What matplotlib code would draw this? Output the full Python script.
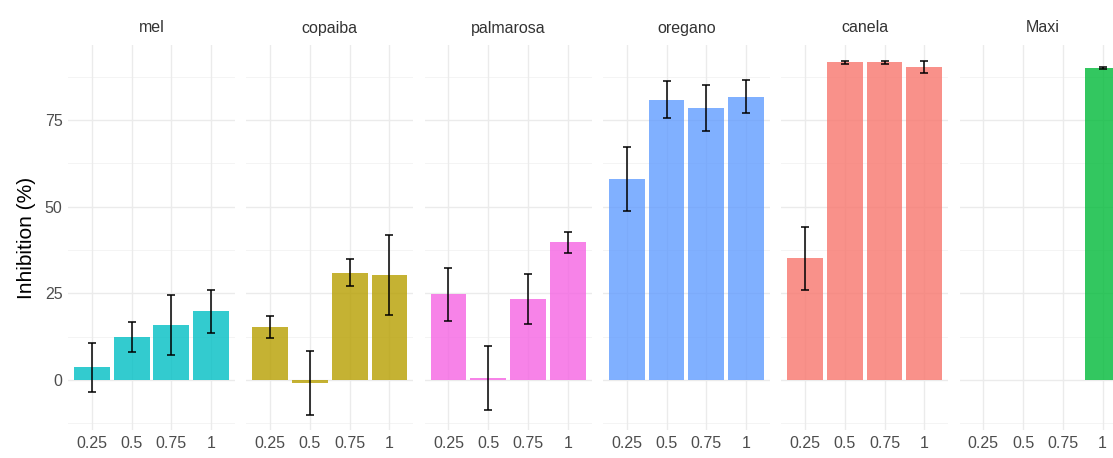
import numpy as np
import matplotlib
matplotlib.use("Agg")
import matplotlib.pyplot as plt
from matplotlib.colors import to_rgba

plt.rcParams['font.family'] = ['Liberation Sans', 'DejaVu Sans']

# Data: mean inhibition (%) and error by extract and concentration
concentrations = ["0.25", "0.5", "0.75", "1"]
extracts = ["mel", "copaiba", "palmarosa", "oregano", "canela", "Maxi"]

mel_mean = [3.7, 12.4, 15.9, 19.8]
mel_err = [7.1, 4.3, 8.7, 6.3]
copaiba_mean = [15.4, -0.8, 31.0, 30.2]
copaiba_err = [3.2, 9.2, 4.0, 11.5]
palmarosa_mean = [24.7, 0.6, 23.5, 39.7]
palmarosa_err = [7.7, 9.1, 7.2, 3.0]
oregano_mean = [58.0, 80.8, 78.5, 81.7]
oregano_err = [9.3, 5.3, 6.6, 4.8]
canela_mean = [35.1, 91.6, 91.6, 90.2]
canela_err = [9.1, 0.4, 0.4, 1.8]
maxi_mean = [np.nan, np.nan, np.nan, 90.1]
maxi_err = [np.nan, np.nan, np.nan, 0.3]

means = [mel_mean, copaiba_mean, palmarosa_mean, oregano_mean, canela_mean, maxi_mean]
errs = [mel_err, copaiba_err, palmarosa_err, oregano_err, canela_err, maxi_err]
colors = ["#00BFC4", "#B79F00", "#F564E3", "#619CFF", "#F8766D", "#00BA38"]

W, H = 1113, 458
fig = plt.figure(figsize=(W / 100, H / 100), dpi=100)
fig.patch.set_facecolor("white")

panel_left0 = 68.0
panel_step = 178.3
panel_w = 167.0
panel_top = 45.0
panel_bot = 430.0

ymin, ymax = -14.4, 96.6
x = np.arange(1, 5)

for i, name in enumerate(extracts):
    left = (panel_left0 + i * panel_step) / W
    ax = fig.add_axes([left, 1 - panel_bot / H, panel_w / W, (panel_bot - panel_top) / H])
    ax.set_xlim(0.4, 4.6)
    ax.set_ylim(ymin, ymax)
    for s in ax.spines.values():
        s.set_visible(False)
    ax.set_facecolor("white")

    # grid
    for yv in [0, 25, 50, 75]:
        ax.axhline(yv, color="#EBEBEB", lw=1.0, zorder=0)
    for yv in [-12.5, 12.5, 37.5, 62.5, 87.5]:
        ax.axhline(yv, color="#F2F2F2", lw=0.6, zorder=0)
    for xv in x:
        ax.axvline(xv, color="#EBEBEB", lw=1.0, zorder=0)

    m = np.array(means[i], dtype=float)
    e = np.array(errs[i], dtype=float)
    ok = ~np.isnan(m)
    fc = to_rgba(colors[i], 0.8)
    ax.bar(x[ok], m[ok], width=0.9, color=fc, edgecolor="none", zorder=2)
    ax.errorbar(x[ok], m[ok], yerr=e[ok], fmt="none", ecolor="black",
                elinewidth=1.1, capsize=2.6, capthick=1.1, zorder=3)

    ax.set_xticks(x)
    ax.set_xticklabels(concentrations, fontsize=11.5, color="#4D4D4D")
    ax.tick_params(axis="both", length=0, pad=4)
    ax.set_yticks([0, 25, 50, 75])
    if i == 0:
        ax.set_yticklabels(["0", "25", "50", "75"], fontsize=11.5, color="#4D4D4D")
        ax.set_ylabel("Inhibition (%)", fontsize=15, color="black", labelpad=6)
    else:
        ax.set_yticklabels([])
    ax.set_title(name, fontsize=11.5, color="#333333", pad=9)

fig.savefig("out.png", dpi=100, facecolor="white")
